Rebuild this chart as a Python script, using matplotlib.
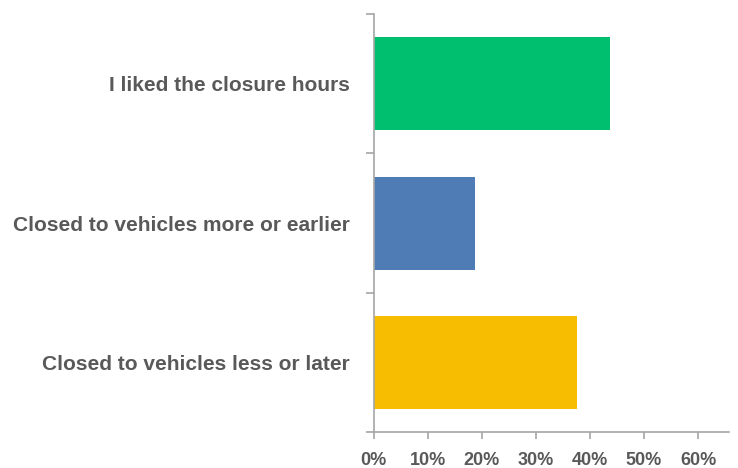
import matplotlib
matplotlib.use("Agg")
import matplotlib.pyplot as plt
from matplotlib.ticker import FixedLocator, PercentFormatter

categories = ["I liked the closure hours",
              "Closed to vehicles more or earlier",
              "Closed to vehicles less or later"]
shares = [0.438, 0.188, 0.376]
colors = ["#00BF6F", "#507CB6", "#F7BD00"]
xticks = [0, 0.1, 0.2, 0.3, 0.4, 0.5, 0.6]

plt.rcParams["font.family"] = ["Liberation Sans", "DejaVu Sans"]

fig = plt.figure(figsize=(7.38, 4.68), dpi=100)
ax = fig.add_axes([0.5061, 0.0763, 0.4821, 0.8937])

n = len(categories)
ypos = list(range(n))[::-1]
ax.barh(ypos, shares, height=0.665, color=colors)

ax.set_xlim(0, 0.6577)
ax.set_ylim(-0.5, n - 0.5)

axis_gray = "#A6A6A6"
text_gray = "#595959"
for side in ("top", "right"):
    ax.spines[side].set_visible(False)
for side in ("left", "bottom"):
    ax.spines[side].set_color(axis_gray)
    ax.spines[side].set_linewidth(1.2)

ax.set_xticks(xticks)
ax.xaxis.set_major_formatter(PercentFormatter(1.0, decimals=0))
ax.tick_params(axis="x", length=5, width=1.2, color=axis_gray, pad=9,
               labelsize=13, labelcolor=text_gray)
for lbl in ax.get_xticklabels():
    lbl.set_fontweight("bold")

# boundary tick marks between categories, labels centred on the bars
ax.yaxis.set_major_locator(FixedLocator([i - 0.5 for i in range(n + 1)]))
ax.yaxis.set_major_formatter(plt.NullFormatter())
ax.yaxis.set_minor_locator(FixedLocator(ypos))
ax.set_yticklabels(categories, minor=True)
ax.tick_params(axis="y", which="major", length=6, width=1.2, color=axis_gray)
ax.tick_params(axis="y", which="minor", length=0, pad=17,
               labelsize=15, labelcolor=text_gray)
for lbl in ax.get_yticklabels(minor=True):
    lbl.set_fontweight("bold")

fig.savefig("out.png", dpi=100)
